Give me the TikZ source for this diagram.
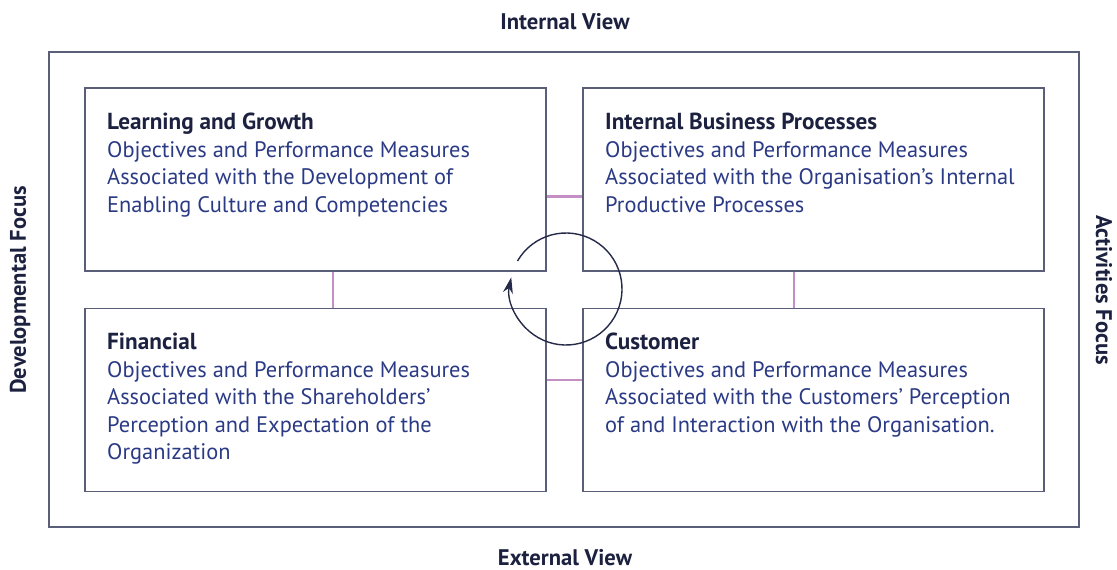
\documentclass[tikz,border=0pt]{standalone}
\usepackage{fontspec}
\setmainfont{PT Sans}
\usepackage{xcolor}
\usetikzlibrary{positioning,calc,arrows.meta}
\definecolor{frame}{HTML}{5A5E78}
\definecolor{head}{HTML}{1C2140}
\definecolor{body}{HTML}{2B3A84}
\definecolor{link}{HTML}{C48FC4}
\newcommand{\boxhead}[1]{\textcolor{head}{\fontsize{23.2}{27.5}\selectfont\bfseries #1}}
\begin{document}
\begin{tikzpicture}[x=1pt,y=-1pt,
    quad/.style={draw=frame,line width=1.8pt,minimum width=461pt,minimum height=183pt,inner sep=0pt},
    txt/.style={anchor=north west,inner sep=0pt,align=left,text=body,font=\fontsize{22.4}{27.5}\selectfont},
    side/.style={text=head,font=\fontsize{22.6}{25}\selectfont\bfseries},
    linkline/.style={draw=link,line width=2.8pt},
    cycle/.style={draw=head!85!frame,line width=1.4pt,-{Stealth[length=16pt,width=10pt]}}]

      \useasboundingbox (0,0) rectangle (1117,570);

      \draw[frame,line width=1.8pt] (49,52) rectangle (1079,527);

      \node[quad] (lg) at (315.5,179.5) {};
      \node[quad] (ib) at (813.5,179.5) {};
      \node[quad] (fin) at (315.5,400) {};
      \node[quad] (cus) at (813.5,400) {};

      \node[txt] (lgt) at (107,113) {\boxhead{Learning and Growth}\\
        Objectives and Performance Measures\\
        Associated with the Development of\\
        Enabling Culture and Competencies};
      \node[txt] (ibt) at (605,113) {\boxhead{Internal Business Processes}\\
        Objectives and Performance Measures\\
        Associated with the Organisation's Internal\\
        Productive Processes};
      \node[txt] (fint) at (107,333) {\boxhead{Financial}\\
        Objectives and Performance Measures\\
        Associated with the Shareholders'\\
        Perception and Expectation of the\\
        Organization};
      \node[txt] (cust) at (605,333) {\boxhead{Customer}\\
        Objectives and Performance Measures\\
        Associated with the Customers' Perception\\
        of and Interaction with the Organisation.};

      \draw[linkline] ($(lg.east)+(0,17)$) -- ($(ib.west)+(0,17)$);
      \draw[linkline] ($(fin.east)+(0,-20)$) -- ($(cus.west)+(0,-20)$);
      \draw[linkline] ($(lg.south)+(17.5,0)$) -- ($(fin.north)+(17.5,0)$);
      \draw[linkline] ($(ib.south)+(-19.5,0)$) -- ($(cus.north)+(-19.5,0)$);

      \coordinate (hub) at (566,289);
      \draw[cycle] (hub) ++(150:56pt) arc[start angle=150,end angle=-192,radius=56pt];

      \node[side] (iv) at (565,22) {Internal View};
      \node[side] (ev) at (565,558) {External View};
      \node[side,rotate=90] (df) at (20,290) {Developmental Focus};
      \node[side,rotate=-90] (af) at (1104,290) {Activities Focus};
    \end{tikzpicture}
\end{document}
